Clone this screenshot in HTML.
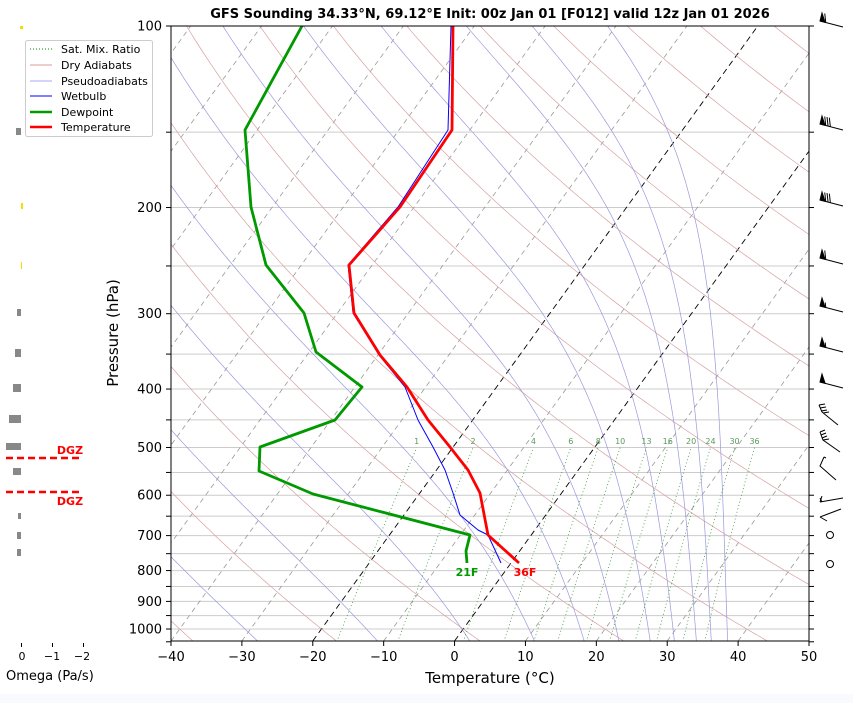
<!DOCTYPE html>
<html><head><meta charset="utf-8"><style>
body{margin:0;background:#fff;width:853px;height:703px;overflow:hidden;font-family:"Liberation Sans","DejaVu Sans",sans-serif}
svg text{font-family:"DejaVu Sans","Liberation Sans",sans-serif}
</style></head><body>
<svg id="s" width="853" height="703" xmlns="http://www.w3.org/2000/svg">
<rect x="0" y="694" width="853" height="9" fill="#f8fafd"/>
<defs><clipPath id="c"><rect x="171" y="26" width="638" height="615"/></clipPath></defs>
<g id="bg" clip-path="url(#c)"></g>
<g clip-path="url(#c)" fill="none" stroke-linejoin="round">
<polyline stroke="#00f" stroke-width="1" points="451,26 448,130 398,207 348,265 353,313 379,355 405,387 418,420 433,447 445,470 453,493 460,515 478,530 488,535 501,563"/>
<polyline stroke="#009900" stroke-width="2.8" points="302,26 245,130 251,207 266,265 304,313 316,352 362,387 335,420 260,447 259,471 313,494 470,535 466,551 467,563"/>
<polyline stroke="#f00" stroke-width="2.8" points="453,26 452,130 400,207 349,265 354,313 380,355 407,387 428,420 450,447 468,470 480,493 488,535 519,563"/>
</g>
<g id="ax"></g>
<text x="467" y="576" fill="#009900" font-size="11" font-weight="bold" text-anchor="middle">21F</text>
<text x="525" y="576" fill="#f00" font-size="11" font-weight="bold" text-anchor="middle">36F</text>
<text x="490" y="18" font-size="13" font-weight="bold" text-anchor="middle">GFS Sounding 34.33°N, 69.12°E Init: 00z Jan 01 [F012] valid 12z Jan 01 2026</text>
<text x="490" y="683" font-size="15" text-anchor="middle">Temperature (°C)</text>
<text transform="translate(118,333) rotate(-90)" font-size="15" text-anchor="middle">Pressure (hPa)</text>
<g>
<rect x="20" y="26" width="3" height="3" fill="#f0e000"/>
<rect x="16" y="128" width="5" height="7" fill="#888"/>
<rect x="21" y="203" width="2" height="6" fill="#f0e000"/>
<rect x="21" y="262" width="1" height="7" fill="#f0e000"/>
<rect x="17" y="309" width="4" height="7" fill="#888"/>
<rect x="15" y="349" width="6" height="8" fill="#888"/>
<rect x="13" y="384" width="8" height="8" fill="#888"/>
<rect x="9" y="415" width="12" height="8" fill="#888"/>
<rect x="6" y="443" width="15" height="7" fill="#888"/>
<rect x="13" y="468" width="8" height="7" fill="#888"/>
<rect x="18" y="513" width="3" height="6" fill="#888"/>
<rect x="17" y="532" width="4" height="7" fill="#888"/>
<rect x="17" y="549" width="4" height="7" fill="#888"/>
<line x1="6" y1="458" x2="83" y2="458" stroke="#f00" stroke-width="2.5" stroke-dasharray="7,4"/>
<line x1="6" y1="492" x2="83" y2="492" stroke="#f00" stroke-width="2.5" stroke-dasharray="7,4"/>
<text x="70" y="454" fill="#f00" font-size="11" font-weight="bold" text-anchor="middle">DGZ</text>
<text x="70" y="505" fill="#f00" font-size="11" font-weight="bold" text-anchor="middle">DGZ</text>
<g stroke="#000"><line x1="21.5" y1="643" x2="21.5" y2="647"/><line x1="52.5" y1="643" x2="52.5" y2="647"/><line x1="83.5" y1="643" x2="83.5" y2="647"/></g>
<g font-size="11" text-anchor="middle"><text x="22" y="660">0</text><text x="52" y="660">−1</text><text x="82" y="660">−2</text></g>
<text x="6" y="680" font-size="13">Omega (Pa/s)</text>
</g>
<g font-size="11">
<rect x="25.5" y="40.5" width="127" height="96" rx="2" fill="#fff" fill-opacity="0.85" stroke="#ccc"/>
<line x1="30" y1="49" x2="52" y2="49" stroke="#080" stroke-dasharray="1,2"/><text x="61" y="53">Sat. Mix. Ratio</text>
<line x1="30" y1="65" x2="52" y2="65" stroke="#d99"/><text x="61" y="69">Dry Adiabats</text>
<line x1="30" y1="81" x2="52" y2="81" stroke="#aae"/><text x="61" y="85">Pseudoadiabats</text>
<line x1="30" y1="96" x2="52" y2="96" stroke="#00f"/><text x="61" y="100">Wetbulb</text>
<line x1="30" y1="112" x2="52" y2="112" stroke="#009900" stroke-width="2.5"/><text x="61" y="116">Dewpoint</text>
<line x1="30" y1="127" x2="52" y2="127" stroke="#f00" stroke-width="2.5"/><text x="61" y="131">Temperature</text>
</g>
<g id="barbs" stroke="#000" fill="#000" stroke-width="1"></g>
<g fill="none" stroke="#000" stroke-width="1">
<polyline points="819,405 822,412 838,425"/>
<line x1="819" y1="405" x2="825" y2="404"/><line x1="820" y1="408" x2="826" y2="407"/><line x1="821" y1="411" x2="827" y2="410"/><line x1="823" y1="413" x2="829" y2="412"/>
<polyline points="820,432 823,440 840,452"/>
<line x1="820" y1="432" x2="825" y2="430"/><line x1="821" y1="435" x2="826" y2="433"/><line x1="822" y1="438" x2="827" y2="436"/><line x1="823" y1="440" x2="829" y2="439"/>
<polyline points="824,457 820,466 836,480"/><line x1="824" y1="457" x2="826" y2="458"/>
<polyline points="820,502 843,498"/><line x1="820" y1="502" x2="822" y2="496"/><line x1="822" y1="502" x2="820" y2="498"/>
<polyline points="820,517 841,509"/><line x1="820" y1="517" x2="827" y2="521"/>
<circle cx="830" cy="535" r="3.5"/><circle cx="830" cy="564" r="3.5"/></g>
</svg>
<script>
var NS="http://www.w3.org/2000/svg";
function Y(p){return 26+Math.log10(p/100)*603;}
function X(T,y){return 171+(T+40)*7.0889+(641-y)*0.7236;}
function el(par,tag,a){var e=document.createElementNS(NS,tag);for(var k in a)e.setAttribute(k,a[k]);par.appendChild(e);return e;}
var bg=document.getElementById('bg'),ax=document.getElementById('ax');
var ticks=[100,150,200,250,300,350,400,450,500,550,600,650,700,750,800,850,900,950,1000,1050];
ticks.forEach(function(p){var y=Y(p);el(bg,'line',{x1:171,x2:809,y1:y,y2:y,stroke:'#ccc','stroke-width':1});});
for(var T=-140;T<=50;T+=10){var y1=641,y2=26;var black=(T==0||T==-20);
el(bg,'line',{x1:X(T,y1),y1:y1,x2:X(T,y2),y2:y2,stroke:black?'#000':'#999','stroke-width':black?0.9:0.8,'stroke-dasharray':black?'6,4':'5,4'});}
function poly(pts,st){el(bg,'polyline',{points:pts.map(function(q){return q[0].toFixed(1)+','+q[1].toFixed(1)}).join(' '),fill:'none',stroke:st.c,'stroke-width':st.w||0.6,'stroke-dasharray':st.d||''});}
for(var th=-40;th<=320;th+=20){var pts=[];for(var p=1050;p>=95;p-=5){var Tk=(th+273.15)*Math.pow(p/1000,0.2857);var y=Y(p);pts.push([X(Tk-273.15,y),y]);}poly(pts,{c:'#d9a0a0',w:0.7});}
function es(Tc){return 6.112*Math.exp(17.67*Tc/(Tc+243.5));}
function dTdp(p,Tk){var Tc=Tk-273.15,e=es(Tc),rs=0.622*e/(p-e),Rd=287,Cp=1005,L=2.501e6;
return (Rd*Tk+L*rs)/(Cp+L*L*rs*0.622/(Rd*Tk*Tk))/p;}
var m0=[-27.6,-10.7,2.3,11.4,18.4,23.3,27.7,31.1,34.2,36.3,38.6];
m0.forEach(function(t0){var pts=[];var Tk=t0+273.15;var y=Y(1050);pts.push([X(t0,y),y]);
for(var p=1050;p>100;p-=2){Tk-=dTdp(p,Tk)*2;y=Y(p-2);pts.push([X(Tk-273.15,y),y]);}
poly(pts,{c:'#9999dd',w:0.7});});
var ws=[1,2,4,6,8,10,13,16,20,24,30,36];
ws.forEach(function(w){var pts=[];for(var p=1050;p>=500;p-=10){var e=w*p/(622+w),l=Math.log(e/6.112),Tc=243.5*l/(17.67-l);var y=Y(p);pts.push([X(Tc,y),y]);}
poly(pts,{c:'#3a9a3a',w:0.8,d:'1,2.5'});
var last=pts[pts.length-1];var t=el(bg,'text',{x:last[0],y:444,'font-size':8,fill:'#5a9a5a','text-anchor':'middle'});t.textContent=w;});
el(ax,'rect',{x:171,y:26,width:638,height:615,fill:'none',stroke:'#000','stroke-width':1});
ticks.forEach(function(p){var y=Y(p);el(ax,'line',{x1:166,x2:171,y1:y,y2:y,stroke:'#000'});el(ax,'line',{x1:809,x2:814,y1:y,y2:y,stroke:'#000'});});
[100,200,300,400,500,600,700,800,900,1000].forEach(function(p){var t=el(ax,'text',{x:162,y:Y(p)+4.5,'font-size':13,'text-anchor':'end'});t.textContent=p;});
for(var T=-40;T<=50;T+=10){var x=171+(T+40)*7.0889;el(ax,'line',{x1:x,x2:x,y1:641,y2:646,stroke:'#000'});var t=el(ax,'text',{x:x,y:661,'font-size':13,'text-anchor':'middle'});t.textContent=(T<0?'−'+(-T):T);}
var bb=document.getElementById('barbs');
function barb(y,pen,full,half){var x0=820,x1=843,dy=6;el(bb,'line',{x1:x0,y1:y-dy/2,x2:x1,y2:y+dy/2});
var pos=0;function at(f){return [x0+f*(x1-x0),y-dy/2+f*dy];}
for(var i=0;i<pen;i++){var a=at(pos),b=at(pos+0.22);el(bb,'polygon',{points:a[0]+','+a[1]+' '+b[0]+','+b[1]+' '+(a[0]+2)+','+(a[1]-8)});pos+=0.25;}
for(i=0;i<full;i++){var a=at(pos);el(bb,'line',{x1:a[0],y1:a[1],x2:a[0]-1,y2:a[1]-9});pos+=0.1;}
for(i=0;i<half;i++){var a=at(pos);el(bb,'line',{x1:a[0],y1:a[1],x2:a[0]-0.5,y2:a[1]-5});}}
barb(24,1,1,0);barb(127,1,3,0);barb(203,1,3,0);barb(261,1,1,0);barb(309,1,0,1);barb(349,1,0,1);barb(385,1,0,0);
</script>
</body></html>
